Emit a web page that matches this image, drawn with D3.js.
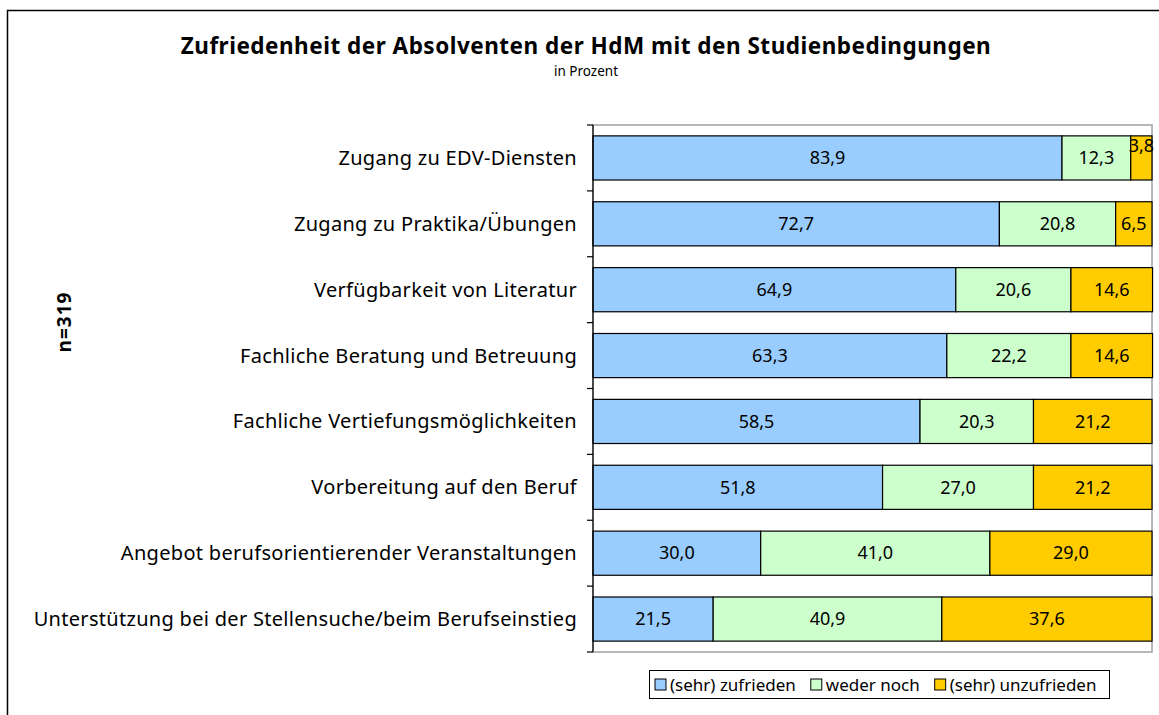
<!DOCTYPE html>
<html>
<head>
<meta charset="utf-8">
<script src="https://cdn.jsdelivr.net/npm/d3@7"></script>
<style>
  body { margin: 0; background: #fff; }
  svg { display: block; font-family: "Noto Sans", "Open Sans", sans-serif; }
</style>
</head>
<body>
<svg id="chart" width="1159" height="715"></svg>
<script>
// categories, top to bottom
var categories = [
  "Zugang zu EDV-Diensten",
  "Zugang zu Praktika/Übungen",
  "Verfügbarkeit von Literatur",
  "Fachliche Beratung und Betreuung",
  "Fachliche Vertiefungsmöglichkeiten",
  "Vorbereitung auf den Beruf",
  "Angebot berufsorientierender Veranstaltungen",
  "Unterstützung bei der Stellensuche/beim Berufseinstieg"
];
var seriesNames = ["(sehr) zufrieden", "weder noch", "(sehr) unzufrieden"];
var zufrieden   = [83.9, 72.7, 64.9, 63.3, 58.5, 51.8, 30.0, 21.5];
var wederNoch   = [12.3, 20.8, 20.6, 22.2, 20.3, 27.0, 41.0, 40.9];
var unzufrieden = [3.8, 6.5, 14.6, 14.6, 21.2, 21.2, 29.0, 37.6];
var colors = ["#99ccff", "#ccffcc", "#ffcc00"];

var svg = d3.select("#chart");

// outer frame (cut off at right/bottom like the original)
svg.append("rect")
    .attr("x", 7.5).attr("y", 10.5)
    .attr("width", 1200).attr("height", 800)
    .attr("fill", "none").attr("stroke", "#000").attr("stroke-width", 1.5);

// title
svg.append("text")
    .attr("x", 586).attr("y", 54)
    .attr("text-anchor", "middle")
    .attr("font-weight", "bold").attr("font-size", 22.5)
    .attr("letter-spacing", 0.5)
    .text("Zufriedenheit der Absolventen der HdM mit den Studienbedingungen");
svg.append("text")
    .attr("x", 586).attr("y", 76)
    .attr("text-anchor", "middle")
    .attr("font-size", 13.5)
    .text("in Prozent");

svg.append("text")
    .attr("transform", "translate(71,322) rotate(-90)")
    .attr("text-anchor", "middle")
    .attr("font-weight", "bold").attr("font-size", 19)
    .attr("letter-spacing", 1)
    .text("n=319");

var plotL = 593, plotR = 1152, plotT = 125, plotB = 652;

var x = d3.scaleLinear().domain([0, 100]).range([plotL, plotR]);
var y = d3.scaleBand().domain(categories).range([plotT, plotB]).paddingInner(0.33).paddingOuter(0.165);
var yTicks = d3.scaleBand().domain(categories).range([plotT, plotB]);

var table = categories.map(function(c, i) {
  return { cat: c, "0": zufrieden[i], "1": wederNoch[i], "2": unzufrieden[i] };
});
var stack = d3.stack().keys(["0", "1", "2"])(table);

// plot area border
svg.append("rect")
    .attr("x", plotL).attr("y", plotT)
    .attr("width", plotR - plotL).attr("height", plotB - plotT)
    .attr("fill", "none").attr("stroke", "#a0a0a0").attr("stroke-width", 1.5);

var layers = svg.append("g").selectAll("g")
  .data(stack)
  .enter().append("g")
    .attr("fill", function(d, i) { return colors[i]; });

layers.selectAll("rect")
  .data(function(d) { return d; })
  .enter().append("rect")
    .attr("x", function(d) { return x(d[0]); })
    .attr("y", function(d) { return y(d.data.cat); })
    .attr("width", function(d) { return x(d[1]) - x(d[0]); })
    .attr("height", y.bandwidth())
    .attr("stroke", "#000").attr("stroke-width", 1.2);

layers.selectAll("text")
  .data(function(d) { return d; })
  .enter().append("text")
    .attr("x", function(d) { return (x(d[0]) + x(d[1])) / 2; })
    .attr("y", function(d) {
      var cy = y(d.data.cat) + y.bandwidth() / 2;
      // narrow segments get their label pushed up, like Excel does
      return (x(d[1]) - x(d[0]) < 26) ? cy - 12 : cy;
    })
    .attr("dy", "0.35em")
    .attr("text-anchor", "middle")
    .attr("font-size", 18)
    .attr("fill", "#000")
    .text(function(d) { return d3.format(".1f")(d[1] - d[0]).replace(".", ","); });

// y axis with ticks between categories
var axis = svg.append("g");
axis.append("line")
    .attr("x1", plotL).attr("x2", plotL).attr("y1", plotT).attr("y2", plotB)
    .attr("stroke", "#000").attr("stroke-width", 1.2);
axis.selectAll(".tick")
  .data(categories.concat([null]))
  .enter().append("line")
    .attr("x1", plotL - 6).attr("x2", plotL)
    .attr("y1", function(d, i) { return plotT + i * yTicks.step(); })
    .attr("y2", function(d, i) { return plotT + i * yTicks.step(); })
    .attr("stroke", "#000").attr("stroke-width", 1.2);
axis.selectAll(".lbl")
  .data(categories)
  .enter().append("text")
    .attr("x", 577)
    .attr("y", function(d) { return y(d) + y.bandwidth() / 2; })
    .attr("dy", "0.35em")
    .attr("text-anchor", "end")
    .attr("font-size", 20)
    .attr("letter-spacing", 0.3)
    .text(function(d) { return d; });

// legend, items chained by their measured text width
var legend = svg.append("g");
legend.append("rect")
    .attr("x", 649.5).attr("y", 670.5).attr("width", 460).attr("height", 28)
    .attr("fill", "#fff").attr("stroke", "#000");
var lx = 655;
seriesNames.forEach(function(name, i) {
  var g = legend.append("g").attr("transform", "translate(" + lx + ",679)");
  g.append("rect")
      .attr("width", 11).attr("height", 11)
      .attr("fill", colors[i]).attr("stroke", "#000");
  var t = g.append("text")
      .attr("x", 15).attr("y", 6).attr("dy", "0.35em")
      .attr("font-size", 17)
      .text(name);
  lx += 15 + t.node().getComputedTextLength() + 15;
});
</script>
</body>
</html>
